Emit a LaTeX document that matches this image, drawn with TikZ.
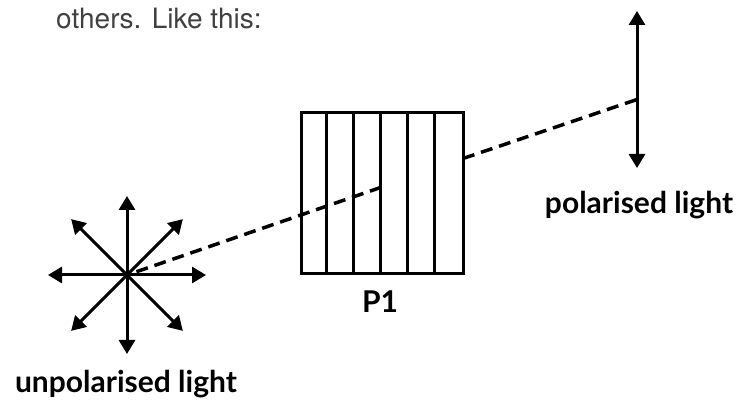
\documentclass[tikz,border=0pt]{standalone}
\usepackage{fontspec}
\setmainfont{Lato}
\newfontfamily\introfont{TeX Gyre Heros}
\usetikzlibrary{arrows.meta}
\begin{document}
\begin{tikzpicture}[x=1pt,y=-1pt,
  arr/.style={line width=3pt,-{Triangle[width=16pt,length=14pt]}},
  dbl/.style={line width=3pt,{Triangle[width=16pt,length=14pt]}-{Triangle[width=16pt,length=14pt]}},
  ray/.style={line width=3.5pt,dash pattern=on 12pt off 7pt},
  lbl/.style={font=\fontsize{30}{34}\selectfont\bfseries, inner sep=0},
  strip/.style={line width=2.5pt},
]
\useasboundingbox (0,0) rectangle (739,403);
\node[font=\introfont\fontsize{28}{32}\selectfont, text=black!75, anchor=base west, inner sep=0] (intro) at (56,29) {others. Like this:};
% filter
\node[draw, line width=3pt, minimum width=162pt, minimum height=161pt, inner sep=0] (p1) at (382,193.5) {};
\foreach \i in {1,...,5}
  \draw[strip] (p1.north west) ++(\i*27,0) -- ++(0,161);
\node[lbl] (p1lbl) at (380,302) {P1};
% source
\coordinate (src) at (127,275);
\foreach \a in {0,45,...,315}
  \draw[arr] (src) -- ++(\a:79);
\node[lbl] (unpol) at (126,384) {unpolarised light};
% polarised
\coordinate (ptop) at (637,11);
\coordinate (pbot) at (637,168);
\draw[dbl] (ptop) -- (pbot);
\node[lbl] (pol) at (639,205) {polarised light};
% ray
\coordinate (in1) at (382,187);
\coordinate (out1) at (463,158.5);
\coordinate (hit) at (637,99.5);
\draw[ray, dash phase=-10pt] (src) -- (in1);
\draw[ray] (out1) -- (hit);
\end{tikzpicture}
\end{document}
